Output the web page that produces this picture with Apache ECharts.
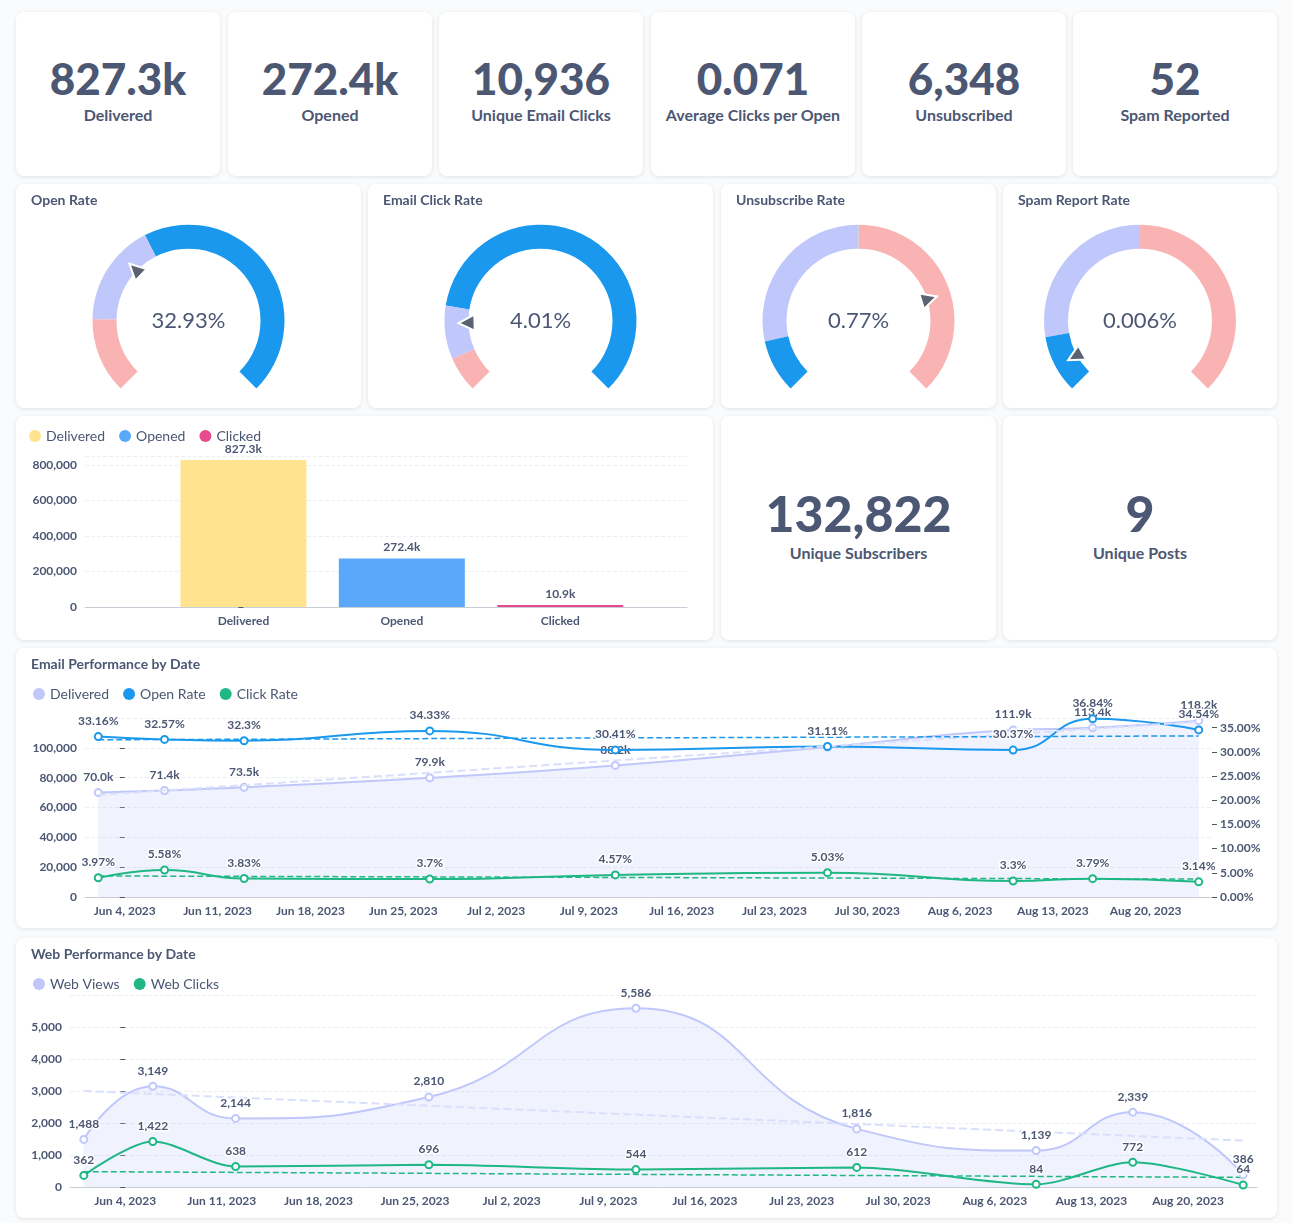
<!DOCTYPE html>
<html>
<head>
<meta charset="utf-8">
<script src="https://cdn.jsdelivr.net/npm/echarts@6/dist/echarts.min.js"></script>
<style>
body{margin:0;background:#f9fbfc;font-family:Lato,"Noto Sans",sans-serif;color:#4C5773;}
.card{position:absolute;background:#fff;border-radius:8px;box-shadow:0 1px 4px rgba(0,0,0,0.10);overflow:hidden;}
.kpi{text-align:center;}
.kpi .n{font-weight:900;font-size:44px;line-height:44px;margin-top:44px;}
.kpi .l{font-weight:700;font-size:16px;margin-top:5px;}
.big .n{font-size:50px;line-height:50px;margin-top:72px;}
.ch{position:absolute;left:0;top:0;right:0;bottom:0;}
</style>
</head>
<body>
<div id="root"></div>
<script>
var kpiValues = ['827.3k','272.4k','10,936','0.071','6,348','52'];
var kpiLabels = ['Delivered','Opened','Unique Email Clicks','Average Clicks per Open','Unsubscribed','Spam Reported'];
var kpiX = [16,228,439,651,862,1073];

var gaugeTitles = ['Open Rate','Email Click Rate','Unsubscribe Rate','Spam Report Rate'];
var gaugeValues = [32.93, 4.01, 0.77, 0.006];
var gaugeMax = [100, 25, 1, 0.1];
var gaugeStops = [[17,40],[2,5],[0.12,0.5],[0.013,0.05]];
var gaugeColors = [['#F9B3B2','#C0C8FB','#1A98EE'],['#F9B3B2','#C0C8FB','#1A98EE'],['#1A98EE','#C0C8FB','#F9B3B2'],['#1A98EE','#C0C8FB','#F9B3B2']];
var gaugeDigits = [2,2,2,3];

var funnelCats = ['Delivered','Opened','Clicked'];
var funnelValues = [827300, 272400, 10936];
var funnelLabels = ['827.3k','272.4k','10.9k'];
var funnelColors = ['#FFE38F','#5AA8FA','#E8498F'];

var emailDates = ['2023-06-02','2023-06-07','2023-06-13','2023-06-27','2023-07-11','2023-07-27','2023-08-10','2023-08-16','2023-08-24'];
var delivered = [70000,71400,73500,79900,88200,100600,111900,113400,118200];
var openRate = [33.16,32.57,32.3,34.33,30.41,31.11,30.37,36.84,34.54];
var clickRate = [3.97,5.58,3.83,3.7,4.57,5.03,3.3,3.79,3.14];
var deliveredTrend = [68500,117500];
var openTrend = [32.5,33.3];
var clickTrend = [4.35,3.7];

var webDates = ['2023-06-01','2023-06-06','2023-06-12','2023-06-26','2023-07-11','2023-07-27','2023-08-09','2023-08-16','2023-08-24'];
var webViews = [1488,3149,2144,2810,5586,1816,1139,2339,386];
var webClicks = [362,1422,638,696,544,612,84,772,64];
var viewsTrend = [3000,1450];
var clicksTrend = [480,300];

var tickDays = [0,7,14,21,28,35,42,49,56,63,70,77];
var base = Date.UTC(2023,5,4);
function dayOf(s){ return Math.round((Date.parse(s+'T00:00:00Z')-base)/86400000); }
var MON = ['Jan','Feb','Mar','Apr','May','Jun','Jul','Aug','Sep','Oct','Nov','Dec'];
function dayLabel(v){ var d = new Date(base+v*86400000); return MON[d.getUTCMonth()]+' '+d.getUTCDate()+', '+d.getUTCFullYear(); }
function kfmt(v){ return (v/1000).toFixed(1)+'k'; }
function num(v){ return v.toLocaleString('en-US'); }

var root = document.getElementById('root');
function card(x,y,w,h,html){
  var d = document.createElement('div');
  d.className = 'card';
  d.style.cssText = 'left:'+x+'px;top:'+y+'px;width:'+w+'px;height:'+h+'px;';
  d.innerHTML = html||'';
  root.appendChild(d);
  return d;
}
function chartIn(c){
  var d = document.createElement('div'); d.className='ch'; c.appendChild(d);
  return echarts.init(d);
}
var txt = {color:'#4C5773', fontFamily:'Lato', fontWeight:'bold'};
var titleStyle = {color:'#4C5773',fontFamily:'Lato',fontSize:14,fontWeight:'bold'};
var legendText = {color:'#4C5773',fontFamily:'Lato',fontSize:14};
function legendItem(n,c){ return {name:n, itemStyle:{color:c, borderWidth:0}}; }

// KPI row
for (var i=0;i<6;i++){
  var c = card(kpiX[i],12,204,164,'');
  c.classList.add('kpi');
  c.innerHTML = '<div class="n">'+kpiValues[i]+'</div><div class="l">'+kpiLabels[i]+'</div>';
}

// gauges
var gx = [16,368,721,1003], gw = [345,345,275,274];
for (var g=0; g<4; g++){
  var c = card(gx[g],184,gw[g],224,'');
  var ch = chartIn(c);
  var mx = gaugeMax[g], st = gaugeStops[g], cl = gaugeColors[g], dg = gaugeDigits[g];
  ch.setOption({
    title:{text:gaugeTitles[g], left:10, top:4, textStyle:titleStyle},
    series:[{
      type:'gauge', center:['50%','61%'], radius:96, startAngle:225, endAngle:-45,
      min:0, max:mx,
      axisLine:{lineStyle:{width:24, color:[[st[0]/mx,cl[0]],[st[1]/mx,cl[1]],[1,cl[2]]]}},
      splitLine:{show:false}, axisTick:{show:false}, axisLabel:{show:false},
      pointer:{icon:'triangle', length:16, width:16, offsetCenter:[0,-66], itemStyle:{color:'#5B6272', borderColor:'#fff', borderWidth:2}},
      anchor:{show:false}, title:{show:false},
      detail:{valueAnimation:false, offsetCenter:[0,0], fontSize:22, color:'#4C5773', fontFamily:'Lato', fontWeight:'normal',
        formatter:(function(d){return function(v){return v.toFixed(d)+'%';};})(dg)},
      data:[{value:gaugeValues[g]}]
    }]
  });
}

// funnel bars
(function(){
  var c = card(16,416,697,224,'');
  var ch = chartIn(c);
  ch.setOption({
    legend:{left:8, top:8, icon:'circle', itemWidth:12, itemHeight:12, itemGap:14, textStyle:legendText,
      data:funnelCats.map(function(n,k){return legendItem(n,funnelColors[k]);})},
    grid:{left:69, right:26, top:40, bottom:33},
    xAxis:{type:'value', min:-1, max:2.8, splitLine:{show:false}, axisLine:{lineStyle:{color:'#C8CDD6'}}, axisTick:{show:false},
      axisLabel:Object.assign({fontSize:12, customValues:[0,1,2], formatter:function(v){return funnelCats[Math.round(v)];}},txt)},
    yAxis:{type:'value', min:0, max:850000, interval:200000, axisLine:{show:false},
      axisLabel:Object.assign({fontSize:12, formatter:num, showMaxLabel:false},txt),
      splitLine:{lineStyle:{type:'dashed',color:'#ECEEF1'}}},
    series: funnelCats.map(function(n,k){
      return {name:n, type:'bar', barWidth:126, barGap:'-100%', data:[[k,funnelValues[k]]], itemStyle:{color:funnelColors[k]},
        label:{show:true, position:'top', color:'#4C5773', fontFamily:'Lato', fontWeight:'bold', fontSize:12,
          formatter:function(){return funnelLabels[k];}}};
    })
  });
})();

card(721,416,275,224,'<div class="kpi big"><div class="n">132,822</div><div class="l">Unique Subscribers</div></div>');
card(1003,416,274,224,'<div class="kpi big"><div class="n">9</div><div class="l">Unique Posts</div></div>');

var lbl = {show:true, color:'#4C5773', fontFamily:'Lato', fontWeight:'bold', fontSize:12, textBorderColor:'#fff', textBorderWidth:3};
var sym = {symbol:'circle', symbolSize:7, showSymbol:true};

// email performance
(function(){
  var c = card(16,648,1261,280,'');
  var ch = chartIn(c);
  var xs = emailDates.map(dayOf);
  var ends = [-2, 81];
  function pairs(a){ return xs.map(function(x,i){return [x,a[i]];}); }
  ch.setOption({
    title:{text:'Email Performance by Date', left:10, top:4, textStyle:titleStyle},
    legend:{left:12, top:34, icon:'circle', itemWidth:12, itemHeight:12, itemGap:14, textStyle:legendText,
      data:[legendItem('Delivered','#C0C8FB'),legendItem('Open Rate','#1A98EE'),legendItem('Click Rate','#1FB783')]},
    grid:{left:69, right:65, top:70, bottom:31},
    xAxis:{type:'value', min:-3, max:82, splitLine:{show:false}, axisLine:{lineStyle:{color:'#C8CDD6'}},
      axisTick:{show:false}, axisLabel:Object.assign({fontSize:12, customValues:tickDays, formatter:dayLabel},txt)},
    yAxis:[
      {type:'value', min:0, max:120000, interval:20000, axisLine:{show:false},
        axisLabel:Object.assign({fontSize:12, formatter:num, showMaxLabel:false},txt),
        splitLine:{lineStyle:{type:'dashed',color:'#ECEEF1'}}},
      {type:'value', min:0, max:37, interval:5, axisLine:{show:false},
        axisLabel:Object.assign({fontSize:12, showMaxLabel:false, formatter:function(v){return v.toFixed(2)+'%';}},txt),
        splitLine:{show:false}}
    ],
    series:[
      Object.assign({name:'Delivered', type:'line', smooth:true, data:pairs(delivered), z:1,
        lineStyle:{color:'#C0C8FB',width:2}, itemStyle:{color:'#fff',borderColor:'#C0C8FB',borderWidth:2},
        areaStyle:{color:'rgba(192,200,251,0.35)'},
        label:Object.assign({position:'top', formatter:function(p){return p.dataIndex==5?'':kfmt(p.value[1]);}},lbl)},sym),
      Object.assign({name:'Open Rate', type:'line', smooth:true, yAxisIndex:1, data:pairs(openRate), z:3,
        lineStyle:{color:'#1A98EE',width:2}, itemStyle:{color:'#fff',borderColor:'#1A98EE',borderWidth:2},
        label:Object.assign({formatter:function(p){return p.value[1]+'%';},
          position:'top'},lbl)},sym),
      Object.assign({name:'Click Rate', type:'line', smooth:true, yAxisIndex:1, data:pairs(clickRate), z:3,
        lineStyle:{color:'#1FB783',width:2}, itemStyle:{color:'#fff',borderColor:'#1FB783',borderWidth:2},
        label:Object.assign({formatter:function(p){return p.value[1]+'%';}, position:'top'},lbl)},sym),
      {type:'line', data:[[ends[0],deliveredTrend[0]],[ends[1],deliveredTrend[1]]], symbol:'none', silent:true,
        lineStyle:{type:'dashed',color:'#DADFFC',width:2}},
      {type:'line', yAxisIndex:1, data:[[ends[0],openTrend[0]],[ends[1],openTrend[1]]], symbol:'none', silent:true,
        lineStyle:{type:'dashed',color:'#1A98EE',width:1.5}},
      {type:'line', yAxisIndex:1, data:[[ends[0],clickTrend[0]],[ends[1],clickTrend[1]]], symbol:'none', silent:true,
        lineStyle:{type:'dashed',color:'#1FB783',width:1.5}}
    ]
  });
})();

// web performance
(function(){
  var c = card(16,938,1261,280,'');
  var ch = chartIn(c);
  var xs = webDates.map(dayOf);
  var ends = [-3, 81];
  function pairs(a){ return xs.map(function(x,i){return [x,a[i]];}); }
  ch.setOption({
    title:{text:'Web Performance by Date', left:10, top:4, textStyle:titleStyle},
    legend:{left:12, top:34, icon:'circle', itemWidth:12, itemHeight:12, itemGap:14, textStyle:legendText,
      data:[legendItem('Web Views','#C0C8FB'),legendItem('Web Clicks','#1FB783')]},
    grid:{left:54, right:20, top:57, bottom:31},
    xAxis:{type:'value', min:-4, max:82, splitLine:{show:false}, axisLine:{lineStyle:{color:'#C8CDD6'}},
      axisTick:{show:false}, axisLabel:Object.assign({fontSize:12, customValues:tickDays, formatter:dayLabel},txt)},
    yAxis:{type:'value', min:0, max:6000, interval:1000, axisLine:{show:false},
      axisLabel:Object.assign({fontSize:12, formatter:num, showMaxLabel:false},txt),
      splitLine:{lineStyle:{type:'dashed',color:'#ECEEF1'}}},
    series:[
      Object.assign({name:'Web Views', type:'line', smooth:true, data:pairs(webViews),
        lineStyle:{color:'#C0C8FB',width:2}, itemStyle:{color:'#fff',borderColor:'#C0C8FB',borderWidth:2},
        areaStyle:{color:'rgba(192,200,251,0.35)'},
        label:Object.assign({position:'top', formatter:function(p){return num(p.value[1]);}},lbl)},sym),
      Object.assign({name:'Web Clicks', type:'line', smooth:0.3, data:pairs(webClicks),
        lineStyle:{color:'#1FB783',width:2}, itemStyle:{color:'#fff',borderColor:'#1FB783',borderWidth:2},
        label:Object.assign({position:'top', formatter:function(p){return num(p.value[1]);}},lbl)},sym),
      {type:'line', data:[[ends[0],viewsTrend[0]],[ends[1],viewsTrend[1]]], symbol:'none', silent:true,
        lineStyle:{type:'dashed',color:'#DADFFC',width:2}},
      {type:'line', data:[[ends[0],clicksTrend[0]],[ends[1],clicksTrend[1]]], symbol:'none', silent:true,
        lineStyle:{type:'dashed',color:'#1FB783',width:1.5}}
    ]
  });
})();
</script>
</body>
</html>
